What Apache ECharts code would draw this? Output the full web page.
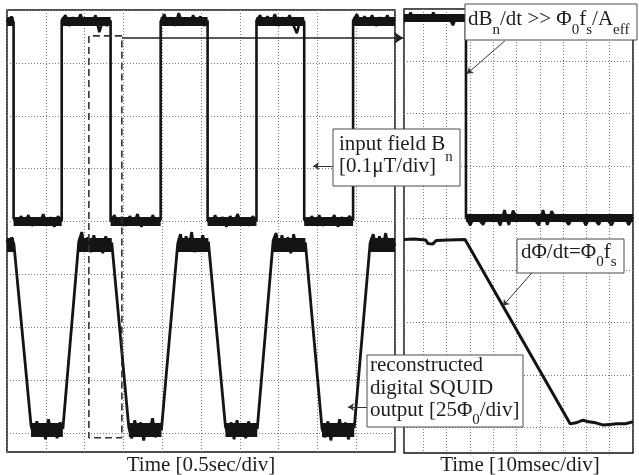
<!DOCTYPE html>
<html><head><meta charset="utf-8">
<script src="https://cdn.jsdelivr.net/npm/echarts@6/dist/echarts.min.js"></script>
<style>html,body{margin:0;padding:0;background:#fff}#c{width:639px;height:475px}</style>
</head><body><div id="c"></div>
<script>
// ---------- DATA (x and y in screen divisions) ----------
// Left panel: 0.5 s/div
const leftFieldEdges = [0.17, 1.41, 2.67, 3.96, 5.17, 6.43, 7.66, 8.92];
const leftFieldLevels = [7.79, 4.01]; // high, low
const leftFieldNoise = [
  [7.82, 7.72, 7.88, 7.76],
  [4.06, 3.95, 4.10, 3.98, 4.12, 3.92, 4.04, 3.96, 4.14, 3.94, 4.08, 3.90, 4.10, 4.00],
  [7.80, 7.90, 7.70, 7.86, 7.74, 7.92, 7.72, 7.84, 7.76, 7.90, 7.58, 7.82, 7.70, 7.80],
  [4.00, 4.12, 3.94, 4.08, 3.92, 4.10, 3.96, 4.14, 3.90, 4.06, 3.98, 4.12, 3.93, 4.04],
  [7.78, 7.92, 7.72, 7.86, 7.70, 7.94, 7.76, 7.84, 7.72, 7.90, 7.74, 7.88, 7.70, 7.80],
  [4.02, 3.93, 4.12, 3.96, 4.08, 3.90, 4.10, 3.98, 4.14, 3.94, 4.06, 3.92, 4.10, 4.00],
  [7.80, 7.90, 7.72, 7.88, 7.74, 7.92, 7.70, 7.86, 7.76, 7.90, 7.72, 7.56, 7.84, 7.78],
  [4.04, 3.94, 4.10, 3.96, 4.12, 3.92, 4.06, 3.98, 4.12, 3.90, 4.08, 3.96, 4.10, 4.02],
  [7.80, 7.92, 7.72, 7.88, 7.74, 7.90, 7.70, 7.86, 7.76, 7.90, 7.74, 7.82]
];
const leftOutputPlateaus = [[0, 0.18], [0.62, 1.44], [1.85, 2.70], [3.14, 3.98], [4.40, 5.19], [5.63, 6.45], [6.86, 7.69], [8.12, 8.95], [9.36, 10]];
const leftOutputLevels = [3.56, 0.06]; // top, bottom
const leftOutputNoise = [
  [3.66, 3.52, 3.70, 3.56],
  [0.14, -0.06, 0.22, -0.02, 0.18, -0.12, 0.26, 0.00, 0.16, -0.10, 0.20, 0.08],
  [3.62, 3.80, 3.46, 3.70, 3.42, 3.74, 3.50, 3.68, 3.40, 3.72, 3.48, 3.60],
  [0.10, -0.10, 0.24, -0.04, 0.20, -0.14, 0.16, 0.02, 0.28, -0.08, 0.18, 0.06],
  [3.58, 3.76, 3.44, 3.72, 3.48, 3.80, 3.42, 3.66, 3.52, 3.74, 3.46, 3.62],
  [0.12, -0.04, 0.20, -0.12, 0.24, -0.02, 0.18, -0.10, 0.22, 0.00, 0.16, 0.08],
  [3.64, 3.78, 3.44, 3.74, 3.50, 3.70, 3.40, 3.76, 3.48, 3.68, 3.52, 3.60],
  [0.08, -0.08, 0.22, -0.14, 0.18, 0.00, 0.26, -0.06, 0.20, -0.12, 0.14, 0.10],
  [3.60, 3.76, 3.46, 3.72, 3.50, 3.78, 3.44, 3.68, 3.54]
];
// zoom marker (dashed window) in left panel
const zoomWindow = [[2.96, 7.51], [2.11, 7.51], [2.11, -0.09], [2.96, -0.09], [2.96, 7.51]];
const zoomArrow = [[2.96, 7.47], [10.21, 7.47]];

// Right panel: 10 ms/div
const rightFieldEdge = 2.83;
const rightFieldLevels = [7.83, 4.00];
const rightFieldHigh = [7.84, 7.80, 7.93, 7.82, 7.78, 7.84, 7.80, 7.86, 7.80, 7.93, 7.82, 7.78, 7.84, 7.80, 7.82, 7.69, 7.84, 7.80, 7.84, 7.82];
const rightFieldLow = [4.02, 3.86, 4.04, 3.97, 3.87, 4.05, 3.98, 4.03, 3.86, 4.15, 3.87, 4.14, 3.98, 4.04, 3.96, 4.05, 3.98, 3.86, 4.15, 3.87,
                       4.13, 3.97, 4.04, 3.98, 3.87, 4.05, 3.97, 4.03, 3.86, 4.04, 3.98, 3.87, 4.05, 3.97, 3.86, 4.04, 3.98, 4.03, 3.87, 4.02];
const rightOutput = [[0.17, 3.59], [0.60, 3.60], [1.10, 3.58], [1.20, 3.51], [1.40, 3.50], [1.55, 3.57], [2.10, 3.58], [2.79, 3.59],
                     [7.30, 0.06], [7.55, 0.08], [7.85, 0.13], [8.10, 0.10], [8.40, 0.08], [8.70, 0.04], [9.00, 0.05], [9.30, 0.06], [9.66, 0.06], [10.0, 0.10]];

// annotation arrows (data coords of each panel)
const leftArrows = [[[8.40, 5.05], [7.89, 5.05]], [[9.28, 0.49], [8.79, 0.49]]];
const rightArrows = [[[4.50, 7.39], [2.87, 6.76]], [[5.66, 2.95], [4.42, 2.32]]];

// ---------- helpers ----------
function plateauTrace(ranges, noise) {
  const pts = [];
  ranges.forEach((r, i) => {
    const v = noise[i], n = v.length;
    v.forEach((y, j) => pts.push([r[0] + (r[1] - r[0]) * j / (n - 1), y]));
  });
  return pts;
}
const leftFieldRanges = [0].concat(leftFieldEdges).map((a, i, arr) => [a, i + 1 < arr.length ? arr[i + 1] : 10]);
const leftField = plateauTrace(leftFieldRanges, leftFieldNoise);
const leftOutput = plateauTrace(leftOutputPlateaus, leftOutputNoise);
const rightField = plateauTrace([[0.17, rightFieldEdge], [rightFieldEdge, 10]], [rightFieldHigh, rightFieldLow]);

const leftFieldBand = leftFieldRanges.map((r, i) => ({coords: [[r[0], leftFieldLevels[i % 2]], [r[1], leftFieldLevels[i % 2]]]}));
const leftOutputBand = leftOutputPlateaus.map((r, i) => ({coords: [[r[0], leftOutputLevels[i % 2]], [r[1], leftOutputLevels[i % 2]]]}));
const rightFieldBand = [{coords: [[0.17, rightFieldLevels[0]], [rightFieldEdge, rightFieldLevels[0]]]},
                        {coords: [[rightFieldEdge, rightFieldLevels[1]], [10, rightFieldLevels[1]]]}];

const INK = '#141414';
const GRIDLINE = {show: true, lineStyle: {color: '#7a7a7a', width: 1, type: [1, 2]}};
const hiddenAxisParts = {axisLine: {show: false}, axisTick: {show: false}, axisLabel: {show: false}};

const mctx = document.createElement('canvas').getContext('2d');
const FONT = '"Liberation Serif", "Times New Roman", serif';
function textRun(x, base, parts, fs, sfs, sdy) {
  const els = [];
  let cx = x;
  parts.forEach(p => {
    const sub = Array.isArray(p);
    const t = sub ? p[0] : p;
    const size = sub ? sfs : fs;
    const font = size + 'px ' + FONT;
    mctx.font = font;
    const w = mctx.measureText(t).width;
    const b = sub ? base + sdy : base;
    els.push({type: 'text', z: 102, silent: true,
      style: {text: t, x: cx, y: b - 0.34 * size, font: font, fill: '#1e1e1e', align: 'left', verticalAlign: 'middle'}});
    cx += w;
  });
  return els;
}
function box(x, y, w, h) {
  return {type: 'rect', z: 101, silent: true, shape: {x: x, y: y, width: w, height: h},
    style: {fill: '#fff', stroke: '#4a4a4a', lineWidth: 1}};
}
function centered(cx, base, t, fs) {
  return {type: 'text', z: 102, silent: true,
    style: {text: t, x: cx, y: base - 0.34 * fs, font: fs + 'px ' + FONT, fill: '#1e1e1e', align: 'center', verticalAlign: 'middle'}};
}

const FS = 21, SFS = 15, SDY = 8;
const graphics = [].concat(
  [box(465, 4, 172, 36)],
  textRun(468, 27, ['dB', ['n'], '/dt >> Φ', ['0'], 'f', ['s'], '/A', ['eff']], FS, SFS, SDY),
  [box(333, 129, 127, 57)],
  textRun(339, 152, ['input field B', ['n']], FS, SFS, 10),
  textRun(339, 174, ['[0.1μT/div]'], FS, SFS, SDY),
  [box(517, 239, 107, 34)],
  textRun(521, 260, ['dΦ/dt=Φ', ['0'], 'f', ['s']], FS, SFS, 7),
  [box(367, 355, 156, 72)],
  textRun(370, 373, ['reconstructed'], FS, SFS, SDY),
  textRun(370, 396, ['digital SQUID'], FS, SFS, SDY),
  textRun(370, 418, ['output [25Φ', ['0'], '/div]'], FS, SFS, 7),
  [centered(201, 473, 'Time [0.5sec/div]', FS), centered(520, 473, 'Time [10msec/div]', FS)]
);

const lineBase = {type: 'line', symbol: 'none', silent: true, clip: false, animation: false};
const bandBase = {type: 'lines', coordinateSystem: 'cartesian2d', silent: true, clip: false, symbol: 'none'};
const option = {
  animation: false,
  backgroundColor: '#fff',
  grid: [
    {left: 7, top: 10, width: 388, height: 442, show: true, borderColor: INK, borderWidth: 1.5, backgroundColor: 'transparent'},
    {left: 7, top: 10, width: 388, height: 423},
    {left: 404, top: 9, width: 229, height: 444, show: true, borderColor: INK, borderWidth: 1.5, backgroundColor: 'transparent'},
    {left: 404, top: 9, width: 229, height: 418}
  ],
  xAxis: [
    Object.assign({gridIndex: 0, type: 'value', min: 0, max: 10, interval: 1, splitLine: GRIDLINE}, hiddenAxisParts),
    {gridIndex: 1, type: 'value', min: 0, max: 10, show: false},
    Object.assign({gridIndex: 2, type: 'value', min: 0, max: 9.83, interval: 1, inverse: true, splitLine: GRIDLINE}, hiddenAxisParts),
    {gridIndex: 3, type: 'value', min: 0.17, max: 10, show: false}
  ],
  yAxis: [
    {gridIndex: 0, type: 'value', min: 0, max: 1, show: false},
    Object.assign({gridIndex: 1, type: 'value', min: 0, max: 8, interval: 1, splitLine: GRIDLINE}, hiddenAxisParts),
    {gridIndex: 2, type: 'value', min: 0, max: 1, show: false},
    Object.assign({gridIndex: 3, type: 'value', min: 0, max: 8, interval: 1, splitLine: GRIDLINE}, hiddenAxisParts)
  ],
  series: [
    Object.assign({}, bandBase, {xAxisIndex: 1, yAxisIndex: 1, data: leftFieldBand, lineStyle: {color: INK, width: 9, opacity: 1}}),
    Object.assign({}, lineBase, {xAxisIndex: 1, yAxisIndex: 1, data: leftField, lineStyle: {color: INK, width: 2.6}}),
    Object.assign({}, bandBase, {xAxisIndex: 1, yAxisIndex: 1, data: leftOutputBand, lineStyle: {color: INK, width: 14, opacity: 1}}),
    Object.assign({}, lineBase, {xAxisIndex: 1, yAxisIndex: 1, data: leftOutput, lineStyle: {color: INK, width: 2.8}}),
    Object.assign({}, lineBase, {xAxisIndex: 1, yAxisIndex: 1, data: zoomWindow, lineStyle: {color: '#333', width: 1.6, type: [7, 4]}}),
    Object.assign({}, bandBase, {xAxisIndex: 1, yAxisIndex: 1, data: [{coords: zoomArrow}], symbol: ['none', 'arrow'], symbolSize: 9,
      lineStyle: {color: '#222', width: 1.6, opacity: 1}}),
    Object.assign({}, bandBase, {xAxisIndex: 1, yAxisIndex: 1, z: 5, data: leftArrows.map(c => ({coords: c})), symbol: ['none', 'arrow'], symbolSize: 6,
      lineStyle: {color: '#333', width: 1, opacity: 1}}),
    Object.assign({}, bandBase, {xAxisIndex: 3, yAxisIndex: 3, data: rightFieldBand, lineStyle: {color: INK, width: 8, opacity: 1}}),
    Object.assign({}, lineBase, {xAxisIndex: 3, yAxisIndex: 3, data: rightField, lineStyle: {color: INK, width: 2.6}}),
    Object.assign({}, lineBase, {xAxisIndex: 3, yAxisIndex: 3, data: rightOutput, lineStyle: {color: INK, width: 3}}),
    Object.assign({}, bandBase, {xAxisIndex: 3, yAxisIndex: 3, z: 5, data: rightArrows.map(c => ({coords: c})), symbol: ['none', 'arrow'], symbolSize: 6,
      lineStyle: {color: '#333', width: 1, opacity: 1}})
  ],
  graphic: {elements: graphics}
};
const chart = echarts.init(document.getElementById('c'), null, {renderer: 'canvas'});
chart.setOption(option);
</script></body></html>
